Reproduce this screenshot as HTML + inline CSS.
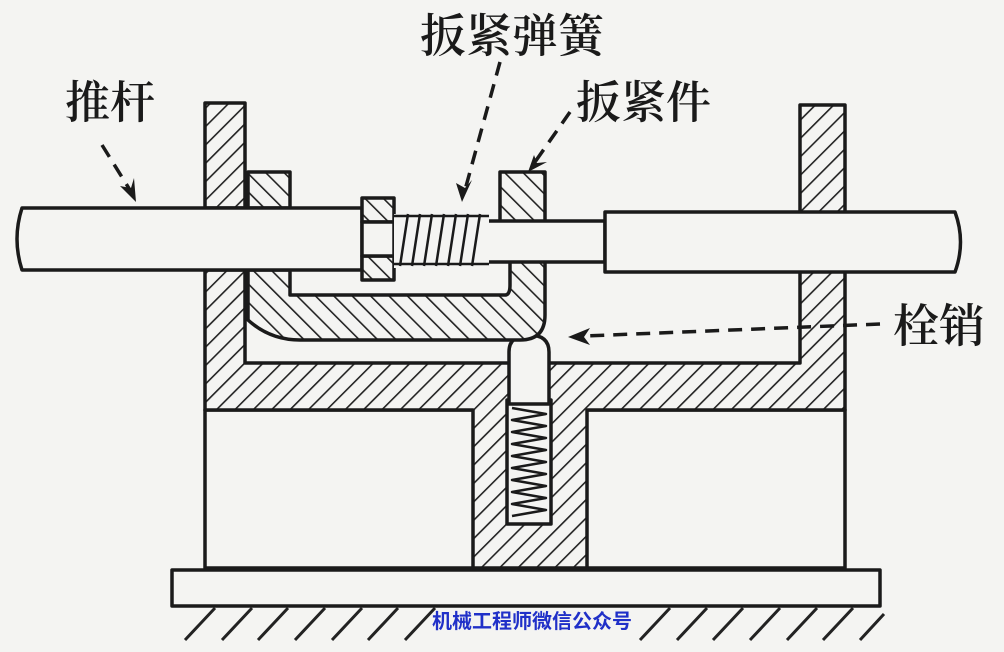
<!DOCTYPE html>
<html><head><meta charset="utf-8"><style>
html,body{margin:0;padding:0;background:#f4f4f2;}
svg{display:block}
text{font-family:"Liberation Serif","Noto Serif CJK SC","Noto Sans CJK SC",serif;fill:#1a1a1a;font-weight:600}
</style></head><body>
<svg width="1004" height="652" viewBox="0 0 1004 652" xmlns="http://www.w3.org/2000/svg">
<defs>
<pattern id="h" patternUnits="userSpaceOnUse" width="13" height="13" patternTransform="rotate(45)">
<rect width="13" height="13" fill="#f4f4f2"/>
<line x1="0" y1="0" x2="0" y2="13" stroke="#222" stroke-width="3.2"/>
</pattern>
<pattern id="h2" patternUnits="userSpaceOnUse" width="13" height="13" patternTransform="rotate(-45)">
<rect width="13" height="13" fill="#f4f4f2"/>
<line x1="0" y1="0" x2="0" y2="13" stroke="#222" stroke-width="3.2"/>
</pattern>
</defs>
<g stroke="#1a1a1a" stroke-width="3.5" stroke-linejoin="round">
<rect x="205" y="410" width="640" height="158" fill="#f4f4f2"/>
<path d="M205 103 H245 V208 H205 Z" fill="url(#h)"/>
<path d="M800 105 H845 V410 H587 V568 H473 V410 H205 V270 H245 V363 H800 Z" fill="url(#h)"/>
<rect x="507" y="400" width="44" height="124" fill="#f4f4f2"/>
<path d="M512 408 L546 414 L512 420 L546 426 L512 432 L546 438 L512 444 L546 450 L512 456 L546 462 L512 468 L546 474 L512 480 L546 486 L512 492 L546 498 L512 504 L546 510 L512 516" fill="none" stroke-width="2.5"/>
<path d="M509 404 V352 Q509 335 529 335 Q549 335 549 352 V404 Z" fill="#f4f4f2"/>
<path d="M248 270 H290 V295 H505 Q510 295 510 285 V255 H545 V315 Q545 340 520 340 H300 Q270 340 248 320 Z" fill="url(#h2)"/>
<path d="M248 172 H290 V208 H248 Z" fill="url(#h2)"/>
<path d="M500 172 H545 V222 H500 Z" fill="url(#h2)"/>
<rect x="172" y="570" width="708" height="36" fill="#f4f4f2"/>
<path d="M22 208 H362 V270 H22 Q12 239 22 208 Z" fill="#f4f4f2"/>
<rect x="485" y="221" width="120" height="41" fill="#f4f4f2"/>
<rect x="362" y="198" width="32" height="24" fill="url(#h2)"/>
<rect x="362" y="256" width="32" height="24" fill="url(#h2)"/>
<rect x="362" y="222" width="32" height="34" fill="#f4f4f2"/>
<rect x="394" y="214" width="95" height="54" fill="#f4f4f2" stroke="none"/>
<line x1="394" y1="216" x2="489" y2="216" stroke-width="2.5"/>
<line x1="394" y1="264" x2="489" y2="264" stroke-width="2.5"/>
<path d="M400 266 L408 214 M412 266 L420 214 M424 266 L432 214 M436 266 L444 214 M448 266 L456 214 M460 266 L468 214 M472 266 L480 214" fill="none" stroke-width="2.5"/>
<path d="M605 212 H955 Q966 242 955 272 H605 Z" fill="#f4f4f2"/>
</g>
<g stroke="#222" stroke-width="3">
<line x1="185" y1="640" x2="215" y2="608"/><line x1="222" y1="640" x2="252" y2="608"/>
<line x1="258" y1="640" x2="288" y2="608"/><line x1="295" y1="640" x2="325" y2="608"/>
<line x1="332" y1="640" x2="362" y2="608"/><line x1="368" y1="640" x2="398" y2="608"/>
<line x1="405" y1="640" x2="435" y2="608"/><line x1="640" y1="640" x2="670" y2="608"/>
<line x1="677" y1="640" x2="707" y2="608"/><line x1="713" y1="640" x2="743" y2="608"/>
<line x1="750" y1="640" x2="780" y2="608"/><line x1="787" y1="640" x2="817" y2="608"/>
<line x1="823" y1="640" x2="853" y2="608"/><line x1="860" y1="640" x2="884" y2="614"/>
</g>
<g stroke="#1a1a1a" stroke-width="3.5" fill="none" stroke-dasharray="14 9">
<line x1="102" y1="145" x2="130" y2="190"/>
<line x1="500" y1="62" x2="465" y2="190"/>
<line x1="570" y1="112" x2="535" y2="162"/>
<line x1="880" y1="324" x2="585" y2="336"/>
</g>
<g fill="#1a1a1a">
<path d="M136 202 L120 186 L131 188 L134 178 Z"/>
<path d="M462 202 L456 183 L465 188 L472 180 Z"/>
<path d="M528 172 L534 155 L537 163 L547 162 Z"/>
<path d="M568 337 L590 328 L584 337 L590 345 Z"/>
</g>
<text x="65" y="118" font-size="45">推杆</text>
<text x="420" y="52" font-size="46">扳紧弹簧</text>
<text x="576" y="118" font-size="45">扳紧件</text>
<text x="893" y="342" font-size="46">栓销</text>
<text x="432" y="628" font-size="20" style="fill:#2030c8;font-weight:700;font-family:'Liberation Sans','Noto Sans CJK SC',sans-serif">机械工程师微信公众号</text>
</svg>
</body></html>
